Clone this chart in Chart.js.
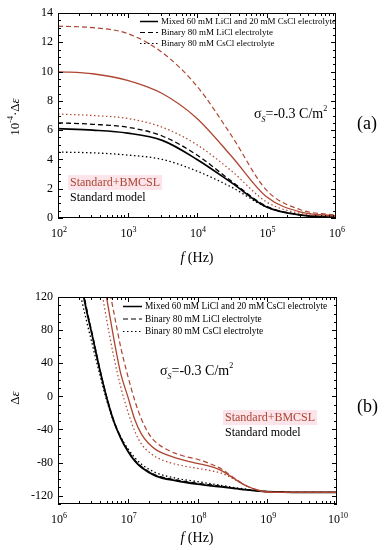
<!DOCTYPE html>
<html>
<head>
<meta charset="utf-8">
<script src="https://cdn.jsdelivr.net/npm/chart.js@4.4.0/dist/chart.umd.min.js"></script>
<style>
body { margin: 0; background: #fff; }
#wrap { position: relative; width: 392px; height: 550px; }
canvas { position: absolute; left: 0; }
</style>
</head>
<body>
<div id="wrap">
<canvas id="chartA" width="392" height="280" style="top:0"></canvas>
<canvas id="chartB" width="392" height="270" style="top:280px"></canvas>
</div>
<script>
// panel (a): low frequency, 10^-4 * delta epsilon
const freqA = [1e2, 3.16e2, 1e3, 3.16e3, 1e4, 3.16e4, 1e5, 3.16e5, 1e6];
const mixedStdA = [6.1, 6.0, 5.8, 5.3, 4.0, 2.4, 0.75, 0.2, 0.05];
const liclStdA = [6.5, 6.4, 6.2, 5.6, 4.3, 2.5, 0.8, 0.22, 0.05];
const csclStdA = [4.5, 4.45, 4.3, 4.0, 3.2, 2.1, 0.75, 0.2, 0.05];
const mixedBmA = [10.0, 9.85, 9.4, 8.5, 6.8, 4.2, 1.45, 0.4, 0.15];
const liclBmA = [13.1, 13.0, 12.6, 11.3, 9.0, 5.6, 1.9, 0.55, 0.2];
const csclBmA = [7.1, 7.0, 6.8, 6.2, 5.0, 3.2, 1.1, 0.3, 0.1];
const yTicksA = [0, 2, 4, 6, 8, 10, 12, 14];

// panel (b): high frequency, delta epsilon
const freqStdB = [2.0e6, 2.5e6, 3.16e6, 3.98e6, 5.0e6, 6.3e6, 7.9e6, 1e7, 1.26e7, 1.58e7, 2.5e7, 5e7, 1e8, 2e8, 4e8, 1e9, 3.16e9, 1e10];
const mixedStdB = [150, 108, 70, 32, -2, -30, -50, -66, -78, -86, -96, -102, -106, -109, -112, -115, -116, -116];
const liclStdB = [155, 111, 72, 33, -1, -29, -49, -65, -77, -85, -95, -101, -105, -108, -112, -115, -116, -116];
const csclStdB = [130, 95, 60, 26, -5, -31, -49, -63, -74, -82, -92, -99, -103, -107, -111, -115, -116, -116];
const freqBmB = [3.98e6, 5e6, 6.3e6, 7.9e6, 1e7, 1.26e7, 1.58e7, 2e7, 2.5e7, 4e7, 6.3e7, 1e8, 1.58e8, 2.24e8, 3.16e8, 5e8, 7.9e8, 1.58e9, 3.16e9, 1e10];
const mixedBmB = [170, 118, 70, 28, 0, -28, -46, -57, -64, -72, -77, -81, -85, -90, -98, -108, -114, -116, -116, -116];
const liclBmB = [190, 145, 102, 60, 25, -5, -28, -45, -55, -66, -72, -76, -82, -88, -97, -108, -114, -116, -116, -116];
const csclBmB = [140, 92, 48, 12, -18, -42, -58, -67, -73, -80, -84, -87, -90, -93, -99, -108, -114, -116, -116, -116];
const yTicksB = [-120, -80, -40, 0, 40, 80, 120];

const legendLabels = ['Mixed 60 mM LiCl and 20 mM CsCl electrolyte', 'Binary 80 mM LiCl electrolyte', 'Binary 80 mM CsCl electrolyte'];

const serif = "'Liberation Serif', 'Times New Roman', serif";
const red = '#ad4531';
const dashed = [5, 3];
const dotted = [1.5, 2.5];

function series(xs, ys, color, dash, width) {
    return {
        data: xs.map((x, i) => ({x: x, y: ys[i]})),
        borderColor: color,
        borderDash: dash,
        borderWidth: width,
        pointRadius: 0,
        fill: false,
        cubicInterpolationMode: 'monotone'
    };
}

function logAxis(min, max, h) {
    return {
        type: 'logarithmic', min: min, max: max,
        grid: { display: false, drawTicks: false },
        border: { display: false },
        afterBuildTicks: s => {
            const t = [];
            for (let e = Math.round(Math.log10(min)); e <= Math.round(Math.log10(max)); e++) t.push({value: Math.pow(10, e)});
            s.ticks = t;
        },
        afterFit: s => { s.height = h; },
        // labels with superscript exponents are drawn by the deco plugin
        ticks: { display: false }
    };
}

function linAxis(min, max, tickVals, w) {
    return {
        type: 'linear', min: min, max: max,
        grid: { display: false, drawTicks: false },
        border: { display: false },
        afterBuildTicks: s => { s.ticks = tickVals.map(v => ({value: v})); },
        afterFit: s => { s.width = w; },
        ticks: { padding: 5, color: '#000', font: { family: serif, size: 12 }, callback: v => String(v) }
    };
}

// draws a row of text pieces with different fonts / offsets
function drawRuns(ctx, runs, x, y) {
    ctx.textAlign = 'left';
    ctx.textBaseline = 'alphabetic';
    let cx = x;
    runs.forEach(r => {
        ctx.font = r.font;
        ctx.fillStyle = r.color || '#000';
        ctx.fillText(r.t, cx, y + (r.dy || 0));
        cx += ctx.measureText(r.t).width;
    });
    return cx - x;
}

function runsWidth(ctx, runs) {
    let w = 0;
    runs.forEach(r => { ctx.font = r.font; w += ctx.measureText(r.t).width; });
    return w;
}

const deco = {
    id: 'deco',
    afterDatasetsDraw(chart, args, o) {
        const {ctx, chartArea: a, scales: {x, y}} = chart;
        ctx.save();
        ctx.strokeStyle = '#000';
        ctx.lineWidth = 1;
        ctx.setLineDash([]);
        ctx.strokeRect(a.left + 0.5, a.top + 0.5, a.right - a.left - 1, a.bottom - a.top - 1);

        // inward ticks on all four sides
        ctx.beginPath();
        const e0 = Math.round(Math.log10(x.min)), e1 = Math.round(Math.log10(x.max));
        for (let e = e0; e < e1; e++) {
            for (let k = 1; k < 10; k++) {
                const px = Math.round(x.getPixelForValue(k * Math.pow(10, e))) + 0.5;
                const len = k === 1 ? 5 : 3;
                ctx.moveTo(px, a.bottom); ctx.lineTo(px, a.bottom - len);
                ctx.moveTo(px, a.top); ctx.lineTo(px, a.top + len);
            }
        }
        for (let v = y.min; v <= y.max + 1e-9; v += o.yMinor) {
            const py = Math.round(y.getPixelForValue(v)) + 0.5;
            const q = (v - o.yBase) / o.yMajor;
            const len = Math.abs(q - Math.round(q)) < 1e-6 ? 5 : 3;
            ctx.moveTo(a.left, py); ctx.lineTo(a.left + len, py);
            ctx.moveTo(a.right, py); ctx.lineTo(a.right - len, py);
        }
        ctx.stroke();

        // decade labels 10^n
        x.ticks.forEach(t => {
            const runs = [
                {t: '10', font: '12px ' + serif},
                {t: String(Math.round(Math.log10(t.value))), font: '8px ' + serif, dy: -5}
            ];
            const px = x.getPixelForValue(t.value);
            drawRuns(ctx, runs, px - runsWidth(ctx, runs) / 2 + 1, a.bottom + 19);
        });

        // legend
        const lf = o.legend;
        const styles = [[], dashed, dotted];
        legendLabels.forEach((lab, i) => {
            const ly = lf.y + i * lf.dy;
            ctx.beginPath();
            ctx.setLineDash(styles[i]);
            ctx.lineWidth = i === 0 ? 1.5 : 1.2;
            ctx.moveTo(lf.x, ly + 0.5); ctx.lineTo(lf.x + lf.len, ly + 0.5);
            ctx.stroke();
            ctx.setLineDash([]);
            ctx.font = lf.size + 'px ' + serif;
            ctx.fillStyle = '#000';
            ctx.textAlign = 'left';
            ctx.textBaseline = 'middle';
            ctx.fillText(lab, lf.x + lf.len + 3, ly + 1);
        });

        // surface charge label
        const s = o.sigma;
        drawRuns(ctx, [
            {t: '\u03C3', font: s.size + 'px ' + serif},
            {t: 'S', font: 'italic 8px ' + serif, dy: 4},
            {t: '=-0.3 C/m', font: s.size + 'px ' + serif},
            {t: '2', font: '8px ' + serif, dy: -7}
        ], s.x, s.y);

        // panel letter
        ctx.font = '18px ' + serif;
        ctx.fillStyle = '#000';
        ctx.textAlign = 'left';
        ctx.textBaseline = 'alphabetic';
        ctx.fillText(o.panel.t, o.panel.x, o.panel.y);

        // model labels
        const m = o.models;
        ctx.font = '12px ' + serif;
        ctx.textBaseline = 'middle';
        const w1 = ctx.measureText('Standard+BMCSL').width;
        ctx.fillStyle = '#fbe4ea';
        ctx.fillRect(m.x - 2, m.y - 8, w1 + 4, 15);
        ctx.fillStyle = red;
        ctx.fillText('Standard+BMCSL', m.x, m.y);
        ctx.fillStyle = '#000';
        ctx.fillText('Standard model', m.x, m.y + 15);

        // x axis title
        const xr = [{t: 'f', font: 'italic 14px ' + serif}, {t: ' (Hz)', font: '14px ' + serif}];
        drawRuns(ctx, xr, o.xTitle.x - runsWidth(ctx, xr) / 2, o.xTitle.y);

        // y axis title (rotated)
        ctx.translate(o.yTitle.x, o.yTitle.y);
        ctx.rotate(-Math.PI / 2);
        const yr = o.yTitle.runs;
        drawRuns(ctx, yr, -runsWidth(ctx, yr) / 2, 0);
        ctx.restore();
    }
};

Chart.register(deco);

function baseOptions(xAxis, yAxis, pad, decoOpts) {
    return {
        responsive: false,
        animation: false,
        devicePixelRatio: 1,
        layout: { padding: pad },
        scales: { x: xAxis, y: yAxis },
        plugins: { legend: { display: false }, tooltip: { enabled: false }, deco: decoOpts }
    };
}

new Chart(document.getElementById('chartA'), {
    type: 'line',
    data: {
        datasets: [
            series(freqA, liclBmA, red, dashed, 1.2),
            series(freqA, mixedBmA, red, [], 1.3),
            series(freqA, csclBmA, red, dotted, 1.2),
            series(freqA, liclStdA, '#000', dashed, 1.3),
            series(freqA, mixedStdA, '#000', [], 1.7),
            series(freqA, csclStdA, '#000', dotted, 1.3)
        ]
    },
    options: baseOptions(
        logAxis(1e2, 1e6, 62),
        linAxis(0, 14, yTicksA, 58),
        { top: 13, right: 56, left: 0, bottom: 0 },
        {
            yMinor: 0.5, yMajor: 2, yBase: 0,
            legend: { x: 140, y: 21, dy: 11, len: 18, size: 9 },
            sigma: { x: 254, y: 118, size: 14 },
            panel: { t: '(a)', x: 357, y: 129 },
            models: { x: 70, y: 183 },
            xTitle: { x: 197, y: 262 },
            yTitle: { x: 19, y: 117, runs: [
                {t: '10', font: '13px ' + serif},
                {t: '-4', font: '8px ' + serif, dy: -6},
                {t: '\u00B7\u0394', font: '13px ' + serif},
                {t: '\u03B5', font: 'italic 13px ' + serif}
            ] }
        }
    )
});

new Chart(document.getElementById('chartB'), {
    type: 'line',
    data: {
        datasets: [
            series(freqBmB, liclBmB, red, dashed, 1.2),
            series(freqBmB, mixedBmB, red, [], 1.3),
            series(freqBmB, csclBmB, red, dotted, 1.2),
            series(freqStdB, liclStdB, '#000', dashed, 1.3),
            series(freqStdB, mixedStdB, '#000', [], 1.8),
            series(freqStdB, csclStdB, '#000', dotted, 1.3)
        ]
    },
    options: baseOptions(
        logAxis(1e6, 1e10, 46),
        linAxis(-130, 120, yTicksB, 58),
        { top: 17, right: 55, left: 0, bottom: 0 },
        {
            yMinor: 10, yMajor: 40, yBase: -120,
            legend: { x: 123, y: 26, dy: 12.5, len: 19, size: 9.4 },
            sigma: { x: 160, y: 95, size: 14 },
            panel: { t: '(b)', x: 357, y: 132 },
            models: { x: 225, y: 138 },
            xTitle: { x: 197, y: 262 },
            yTitle: { x: 19, y: 118, runs: [
                {t: '\u0394', font: '13px ' + serif},
                {t: '\u03B5', font: 'italic 13px ' + serif}
            ] }
        }
    )
});
</script>
</body>
</html>
